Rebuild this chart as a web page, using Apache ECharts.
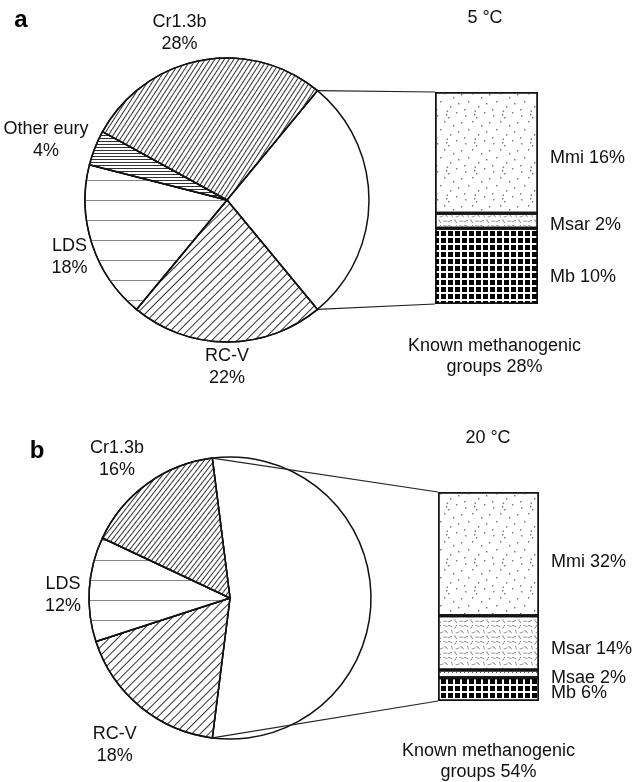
<!DOCTYPE html>
<html><head><meta charset="utf-8">
<script src="https://cdn.jsdelivr.net/npm/echarts@6/dist/echarts.min.js"></script>
<style>html,body{margin:0;padding:0;background:#fff}#c{width:632px;height:782px}</style>
</head><body><div id="c"></div>
<script>
// ---- data ----
const pieANames = ['Known methanogenic groups', 'RC-V', 'LDS', 'Other eury', 'Cr1.3b'];
const pieAValues = [28, 22, 18, 4, 28];
const pieBNames = ['Known methanogenic groups', 'RC-V', 'LDS', 'Cr1.3b'];
const pieBValues = [54, 18, 12, 16];
const barANames = ['Mmi', 'Msar', 'Mb'];
const barAValues = [16, 2, 10];
const barBNames = ['Mmi', 'Msar', 'Msae', 'Mb'];
const barBValues = [32, 14, 2, 6];
const panelTitles = ['5 °C', '20 °C'];
const panelLetters = ['a', 'b'];
const knownLabel = 'Known methanogenic\ngroups ';

// ---- styling / layout ----
const FONT = '"Liberation Sans", Arial, Helvetica, sans-serif';
const FS = 18;
const sum = a => a.reduce((s, v) => s + v, 0);
const L = [
  {cx: 227, cy: 200, r: 142, grid: {left: 435, top: 92, width: 103, height: 212}, g: 5, title: [485, 18], letter: [21, 20], knownGap: 32, knownDx: 8,
   pieNudge: [[0, 0], [0, -2], [5, 4], [0, 12], [-15, 4]], barNudge: [[0, 5], [0, 4], [0, 11]]},
  {cx: 230, cy: 598, r: 141, grid: {left: 438, top: 492, width: 101, height: 209}, g: 9, title: [488, 438], letter: [37, 451], knownGap: 40, knownDx: 0,
   pieNudge: [[0, 0], [0, 8], [2, 8], [-5, 10]], barNudge: [[0, 8], [0, 6], [0, 4], [0, 4]]}
];
function hatch(color, gap, deg, w) {
  return {symbol: 'rect', symbolSize: 1, dashArrayX: [1, 0], dashArrayY: [w || 1, gap], rotation: -deg * Math.PI / 180, color: color};
}
function dotsPath(pts, s) {
  return 'path://' + pts.map(p => `M${p[0]} ${p[1]}h${s}v${s}h${-s}z`).join('');
}
function dashesPath(list, len, w) {
  return 'path://' + list.map(d => {
    const a = d[2] * Math.PI / 180, ux = Math.cos(a) * len / 2, uy = Math.sin(a) * len / 2;
    const nx = -Math.sin(a) * w / 2, ny = Math.cos(a) * w / 2;
    const p = [[d[0] - ux + nx, d[1] - uy + ny], [d[0] + ux + nx, d[1] + uy + ny], [d[0] + ux - nx, d[1] + uy - ny], [d[0] - ux - nx, d[1] - uy - ny]];
    return 'M' + p.map(q => q[0].toFixed(2) + ' ' + q[1].toFixed(2)).join('L') + 'z';
  }).join('');
}
const dotsDecal = {
  symbol: dotsPath([[0,5],[8,0],[17,3],[24,9],[5,13],[13,10],[20,17],[2,22],[10,19],[16,25],[26.6,26.6],[26,2]], 1.4),
  symbolSize: 1, dashArrayX: [28, 0], dashArrayY: [28, 0], color: '#777'
};
const dashDecal = {
  symbol: dashesPath([[2,2,20],[8,3,-60],[14,2,10],[4,8,80],[10,9,-20],[15,8,45],[2,14,-30],[8,14,60],[14,14,0]], 4.5, 0.8),
  symbolSize: 1, dashArrayX: [16, 0], dashArrayY: [16, 0], color: '#777'
};
const pieDecals = [
  {'RC-V': hatch('#333', 5, 45), 'LDS': hatch('#888', 19, 0), 'Other eury': hatch('#333', 2, 0), 'Cr1.3b': hatch('#333', 3, 57)},
  {'RC-V': hatch('#333', 5, 45), 'LDS': hatch('#888', 19, 0), 'Cr1.3b': hatch('#333', 3, 52)}
];
const barDecals = {
  'Mmi': dotsDecal,
  'Msar': dashDecal,
  'Msae': {symbol: 'rect', symbolSize: 1, dashArrayX: [1, 3], dashArrayY: [1, 3], color: '#555'},
  'Mb': {symbol: 'rect', symbolSize: 1, dashArrayX: [5, 2], dashArrayY: [5, 2], color: '#000'}
};

const pies = [[pieANames, pieAValues], [pieBNames, pieBValues]];
const bars = [[barANames, barAValues], [barBNames, barBValues]];

function startAngleOf(vals) { return 360 * vals[0] / sum(vals) / 2; }
function midAngle(vals, i) {
  const tot = sum(vals);
  let cum = 0; for (let k = 0; k < i; k++) cum += vals[k];
  return startAngleOf(vals) - 360 * (cum + vals[i] / 2) / tot;
}

const series = [];
pies.forEach((pv, p) => {
  const names = pv[0], vals = pv[1], lay = L[p];
  series.push({
    type: 'pie', center: [lay.cx, lay.cy], radius: lay.r, startAngle: startAngleOf(vals), clockwise: true,
    silent: true, animation: false, avoidLabelOverlap: false, minShowLabelAngle: 0,
    emphasis: {disabled: true},
    itemStyle: {borderColor: '#111', borderWidth: 1.5},
    label: {show: true, position: 'outside', formatter: '{b}\n{c}%', fontFamily: FONT, fontSize: FS, lineHeight: 22, color: '#111'},
    labelLine: {show: false},
    labelLayout: function (params) {
      const i = params.dataIndex;
      const ang = midAngle(vals, i) * Math.PI / 180;
      const ux = Math.cos(ang), uy = -Math.sin(ang);
      const w = params.labelRect.width, h = params.labelRect.height;
      const ext = w / 2 * Math.abs(ux) + h / 2 * Math.abs(uy);
      const d = lay.r + lay.g + ext;
      const nd = lay.pieNudge[i] || [0, 0];
      return {x: lay.cx + d * ux + nd[0], y: lay.cy + d * uy + nd[1], align: 'center', verticalAlign: 'middle'};
    },
    data: names.map((n, i) => ({
      name: n, value: vals[i],
      itemStyle: {color: '#fff', decal: pieDecals[p][n] || null},
      label: {show: i > 0}
    }))
  });
});

const grids = [], xAxes = [], yAxes = [];
bars.forEach((bv, p) => {
  const names = bv[0], vals = bv[1], lay = L[p];
  grids.push(Object.assign({outerBoundsMode: 'none', containLabel: false}, lay.grid));
  xAxes.push({type: 'category', gridIndex: p, data: [''], axisLine: {show: false}, axisTick: {show: false}, axisLabel: {show: false},
    name: knownLabel + pies[p][1][0] + '%', nameLocation: 'middle', nameGap: lay.knownGap,
    nameTextStyle: {fontFamily: FONT, fontSize: FS, lineHeight: 21, color: '#111', align: 'center', padding: [0, 0, 0, lay.knownDx * 2]}});
  yAxes.push({type: 'value', gridIndex: p, inverse: true, min: 0, max: sum(vals), interval: sum(vals), show: false});
  names.forEach((n, i) => {
    series.push({
      type: 'bar', name: n, xAxisIndex: p, yAxisIndex: p, stack: 'st' + p, data: [vals[i]],
      barWidth: '100%', silent: true, animation: false, emphasis: {disabled: true},
      itemStyle: {color: '#fff', borderColor: '#111', borderWidth: 1.5, decal: barDecals[n]},
      label: {show: true, position: 'right', distance: 12, offset: lay.barNudge[i], formatter: '{a} {c}%', fontFamily: FONT, fontSize: FS, color: '#111'}
    });
  });
});

// connecting lines (from the edges of the "known" slice to the bar corners) + texts
const graphic = [];
pies.forEach((pv, p) => {
  const vals = pv[1], lay = L[p];
  const a1 = startAngleOf(vals) * Math.PI / 180;
  const a2 = (startAngleOf(vals) - 360 * vals[0] / sum(vals)) * Math.PI / 180;
  const pTop = [lay.cx + lay.r * Math.cos(a1), lay.cy - lay.r * Math.sin(a1)];
  const pBot = [lay.cx + lay.r * Math.cos(a2), lay.cy - lay.r * Math.sin(a2)];
  const gx = lay.grid.left, gt = lay.grid.top, gb = lay.grid.top + lay.grid.height;
  graphic.push({type: 'polyline', silent: true, z: 10, shape: {points: [pTop, [gx, gt]]}, style: {stroke: '#222', lineWidth: 1.2, fill: null}});
  graphic.push({type: 'polyline', silent: true, z: 10, shape: {points: [pBot, [gx, gb]]}, style: {stroke: '#222', lineWidth: 1.2, fill: null}});
  graphic.push({type: 'text', silent: true, x: lay.title[0], y: lay.title[1], style: {text: panelTitles[p], font: FS + 'px ' + FONT, fill: '#111', textAlign: 'center', textVerticalAlign: 'middle'}});
  graphic.push({type: 'text', silent: true, x: lay.letter[0], y: lay.letter[1], style: {text: panelLetters[p], font: 'bold 24px ' + FONT, fill: '#000', textAlign: 'center', textVerticalAlign: 'middle'}});
});

const chart = echarts.init(document.getElementById('c'), null, {renderer: 'canvas'});
chart.setOption({
  backgroundColor: '#fff',
  animation: false,
  grid: grids, xAxis: xAxes, yAxis: yAxes,
  series: series,
  graphic: graphic
});
</script></body></html>
